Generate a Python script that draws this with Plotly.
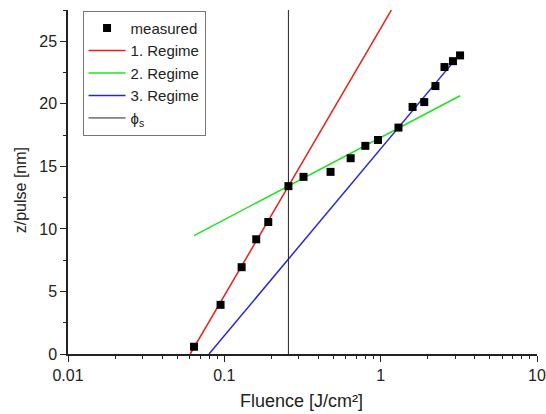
import numpy as np
import plotly.graph_objects as go

# measured data
fluence = [0.064, 0.0946, 0.129, 0.160, 0.191, 0.257, 0.321, 0.478, 0.643, 0.798,
           0.961, 1.30, 1.60, 1.90, 2.24, 2.56, 2.90, 3.22]
z_pulse = [0.58, 3.93, 6.94, 9.17, 10.55, 13.42, 14.16, 14.56, 15.65, 16.64,
           17.11, 18.1, 19.75, 20.14, 21.42, 22.94, 23.41, 23.87]

# fitted regimes: z = slope * (log10(F) - log10(F_th))
regime1 = dict(slope=21.37, f_th=0.0605, f_start=0.0605, f_end=1.17)
regime2 = dict(slope=6.57, f_th=0.00232, f_start=0.064, f_end=3.22)
regime3 = dict(slope=14.94, f_th=0.0798, f_start=0.0798, f_end=3.22)
phi_s = 0.257
y_max = 27.5
x_ticks = [0.01, 0.1, 1, 10]
x_ticktext = ["0.01", "0.1", "1", "10"]


def fit_line(p):
    xs = np.logspace(np.log10(p["f_start"]), np.log10(p["f_end"]), 60)
    ys = p["slope"] * (np.log10(xs) - np.log10(p["f_th"]))
    return xs, ys


fig = go.Figure()
for p, name, col, rank in [(regime1, "1. Regime", "#e8201c", 2),
                           (regime2, "2. Regime", "#22e022", 3),
                           (regime3, "3. Regime", "#2626d8", 4)]:
    xs, ys = fit_line(p)
    fig.add_trace(go.Scatter(x=xs, y=ys, mode="lines", name=name, legendrank=rank,
                             line=dict(color=col, width=1.5)))
fig.add_trace(go.Scatter(x=[phi_s, phi_s], y=[0, y_max], mode="lines",
                         name="ϕ<sub>s</sub>", legendrank=5,
                         line=dict(color="#222222", width=1)))
fig.add_trace(go.Scatter(x=fluence, y=z_pulse, mode="markers", name="measured",
                         legendrank=1,
                         marker=dict(symbol="square", size=8, color="black")))

font = dict(family="Liberation Sans, Arial, sans-serif", size=16, color="#222222")
fig.update_layout(
    width=546, height=414,
    margin=dict(l=68, r=9, t=10, b=60),
    plot_bgcolor="white", paper_bgcolor="white",
    font=font,
    showlegend=True,
    legend=dict(x=0.031, y=0.998, xanchor="left", yanchor="top",
                bordercolor="#777777", borderwidth=1, bgcolor="white",
                font=dict(size=15), tracegroupgap=0, itemwidth=37),
    annotations=[
        dict(text="Fluence [J/cm²]", xref="paper", yref="paper",
             x=0.497, y=-0.138, xanchor="center", yanchor="middle",
             showarrow=False, font=dict(size=18)),
        dict(text="z/pulse [nm]", xref="paper", yref="paper",
             x=-0.102, y=0.4765, xanchor="center", yanchor="middle",
             textangle=-90, showarrow=False, font=dict(size=16)),
    ],
)
fig.update_xaxes(type="log", range=[-2, 1], automargin=False,
                 tickvals=x_ticks, ticktext=x_ticktext,
                 ticks="outside", ticklen=6, tickcolor="#222222",
                 showline=True, linecolor="#222222", linewidth=1.5,
                 showgrid=False, zeroline=False,
                 minor=dict(ticks="outside", ticklen=3, tickcolor="#222222",
                            dtick="D1", showgrid=False))
fig.update_yaxes(range=[0, y_max], dtick=5, tick0=0, automargin=False,
                 ticks="outside", ticklen=6, tickcolor="#222222",
                 showline=True, linecolor="#222222", linewidth=1.5,
                 showgrid=False, zeroline=False,
                 minor=dict(ticks="outside", ticklen=3, tickcolor="#222222",
                            dtick=2.5, showgrid=False))

fig.write_html("out.html", config={"displayModeBar": False},
               post_script="document.body.style.margin='0';"
                           "document.body.style.overflow='hidden';")
